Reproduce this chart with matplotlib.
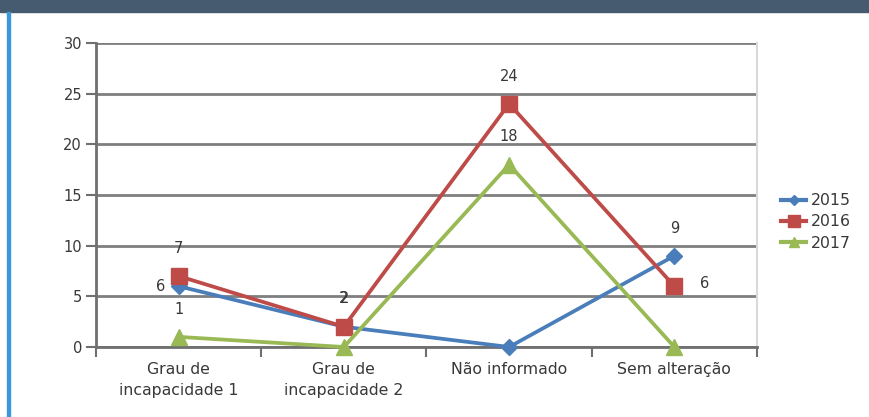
import matplotlib
matplotlib.use("Agg")
import matplotlib.pyplot as plt
from matplotlib.patches import Rectangle
from matplotlib.lines import Line2D

categories = ["Grau de\nincapacidade 1", "Grau de\nincapacidade 2", "Não informado", "Sem alteração"]
years = ["2015", "2016", "2017"]
v2015 = [6, 2, 0, 9]
v2016 = [7, 2, 24, 6]
v2017 = [1, 0, 18, 0]
yticks = [0, 5, 10, 15, 20, 25, 30]

colors = ["#4a7ebb", "#be4b48", "#98b954"]
markers = ["D", "s", "^"]
msizes = [8, 12, 11]
txt = "#383838"

plt.rcParams['font.family'] = ['DejaVu Sans']

fig = plt.figure(figsize=(8.7, 4.17), dpi=100)
W, H = 870, 417
# top bar and left border
fig.patches.append(Rectangle((0, 1 - 12 / H), 1, 12 / H, transform=fig.transFigure,
                             color="#465b70", zorder=0))
fig.patches.append(Rectangle((7 / W, 0), 3 / W, 1 - 12 / H, transform=fig.transFigure,
                             color="#3a9ad9", zorder=0))

ax = fig.add_axes([96 / W, 1 - 347 / H, (757 - 96) / W, (347 - 43) / H])
x = list(range(len(categories)))
series = [v2015, v2016, v2017]
for vals, c, m, ms, yr in zip(series, colors, markers, msizes, years):
    ax.plot(x, vals, color=c, lw=2.7, marker=m, markersize=ms, label=yr, zorder=3,
            clip_on=False)

ax.set_xlim(-0.5, 3.5)
ax.set_ylim(0, 30)
ax.set_yticks(yticks)
ax.yaxis.grid(True, color="#7f7f7f", lw=2)
ax.set_axisbelow(True)
ax.spines["top"].set_visible(False)
ax.spines["right"].set_color("#d9d9d9")
ax.spines["right"].set_linewidth(1.5)
ax.spines["left"].set_color("#6f6f6f")
ax.spines["left"].set_linewidth(2)
ax.spines["bottom"].set_color("#6f6f6f")
ax.spines["bottom"].set_linewidth(2)
ax.tick_params(axis="y", length=7, width=1.5, color="#6f6f6f", labelsize=10.5, labelcolor=txt, pad=3)
ax.set_xticks(x)
ax.set_xticklabels(categories, fontsize=11.3, color=txt, linespacing=1.45)
ax.tick_params(axis="x", length=0, pad=11)
ax.set_xticks([-0.5, 0.5, 1.5, 2.5, 3.5], minor=True)
ax.tick_params(axis="x", which="minor", length=7, width=1.5, color="#6f6f6f", direction="out")

lab_kw = dict(fontsize=10.5, color=txt, ha="center", va="center", zorder=4)
# 2015 labels
ax.annotate("6", (0, 6), xytext=(-13, 0), textcoords="offset points", **lab_kw)
ax.annotate("2", (1, 2), xytext=(0, 20), textcoords="offset points", **lab_kw)
ax.annotate("9", (3, 9), xytext=(0, 20), textcoords="offset points", **lab_kw)
# 2016 labels
ax.annotate("7", (0, 7), xytext=(0, 20), textcoords="offset points", **lab_kw)
ax.annotate("2", (1, 2), xytext=(0.6, 20.6), textcoords="offset points", **lab_kw)
ax.annotate("24", (2, 24), xytext=(0, 20), textcoords="offset points", **lab_kw)
ax.annotate("6", (3, 6), xytext=(22, 2), textcoords="offset points", **lab_kw)
# 2017 labels
ax.annotate("1", (0, 1), xytext=(0, 20), textcoords="offset points", **lab_kw)
ax.annotate("18", (2, 18), xytext=(0, 20), textcoords="offset points", **lab_kw)

handles = [Line2D([0], [0], color=c, lw=3, marker=m, markersize=ms * 0.7) for c, m, ms in zip(colors, markers, msizes)]
fig.legend(handles, years, loc="center left", bbox_to_anchor=(767 / W, 1 - 222 / H),
           frameon=False, fontsize=11.3, handlelength=1.6, handletextpad=0.3,
           labelspacing=0.4, labelcolor=txt)

fig.savefig("out.png", dpi=100, facecolor="white")
